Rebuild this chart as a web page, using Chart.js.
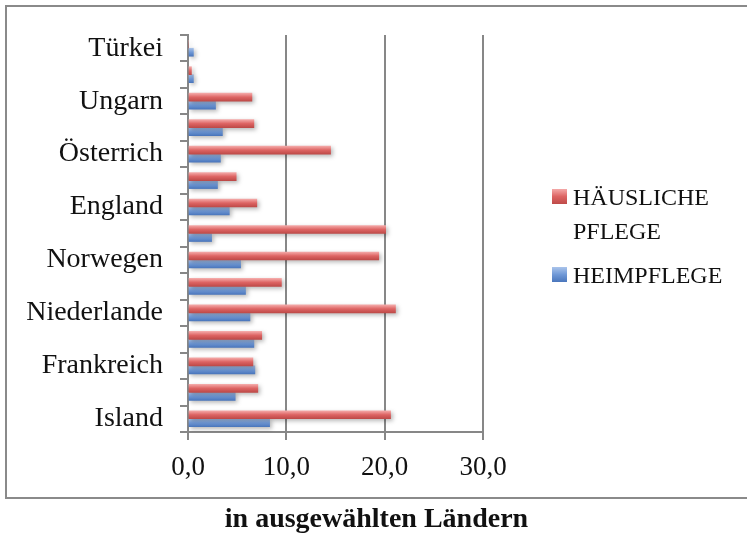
<!DOCTYPE html>
<html>
<head>
<meta charset="utf-8">
<script src="https://cdn.jsdelivr.net/npm/chart.js@4"></script>
<style>
  html, body { margin:0; padding:0; background:#fff; }
  body { width:747px; height:533px; position:relative; overflow:hidden; font-family:"Liberation Serif", serif; }
  #frame { position:absolute; left:5px; top:5px; width:800px; height:490px; border:2px solid #8a8a8a; }
  #chart { position:absolute; left:0; top:0; }
  #legend { position:absolute; left:552px; top:180px; width:180px; font-size:24px; line-height:34px; color:#111; }
  .item { position:relative; padding-left:21px; margin-bottom:10px; }
  .swatch { position:absolute; left:0; top:9px; width:15px; height:15px; }
  #caption { position:absolute; left:3px; top:504px; width:747px; text-align:center; font-weight:bold; font-size:28px; line-height:28px; color:#111; }
</style>
</head>
<body>
<div id="frame"></div>
<canvas id="chart" width="747" height="533"></canvas>
<div id="legend"></div>
<div id="caption">in ausgewählten Ländern</div>
<script>
// categories, top to bottom (every other one is unlabeled in the original)
const countries = ["Türkei","","Ungarn","","Österrich","","England","","Norwegen","","Niederlande","","Frankreich","","Island"];
const haeuslichePflege = [0, 0.35, 6.5, 6.7, 14.5, 4.9, 7.0, 20.1, 19.4, 9.5, 21.1, 7.5, 6.6, 7.1, 20.6];
const heimPflege = [0.55, 0.55, 2.8, 3.5, 3.3, 3.0, 4.2, 2.4, 5.35, 5.85, 6.3, 6.7, 6.8, 4.8, 8.3];
const xTicks = [0, 10, 20, 30];

const seriesNames = ["HÄUSLICHE PFLEGE", "HEIMPFLEGE"];
const shades = [
  ["#f4a9a8", "#dd6463", "#be4a48"],
  ["#aac4eb", "#7099d7", "#4a76bc"]
];

// vertical gradient per bar, like the office-style bevel
const barShade = {
  id:"barShade",
  beforeDatasetsDraw(chart){
    const ctx = chart.ctx;
    chart.data.datasets.forEach((ds, di) => {
      const c = shades[di];
      chart.getDatasetMeta(di).data.forEach(el => {
        const top = el.y - el.height / 2, bot = el.y + el.height / 2;
        const g = ctx.createLinearGradient(0, top, 0, bot);
        g.addColorStop(0, c[0]);
        g.addColorStop(0.5, c[1]);
        g.addColorStop(1, c[2]);
        el.options = Object.assign({}, el.options, { backgroundColor:g });
      });
    });
  },
  beforeDatasetDraw(chart){
    const ctx = chart.ctx;
    ctx.save();
    ctx.shadowColor = "rgba(0,0,0,.28)";
    ctx.shadowBlur = 4;
    ctx.shadowOffsetX = 2;
    ctx.shadowOffsetY = 2;
  },
  afterDatasetDraw(chart){
    chart.ctx.restore();
  }
};

const axisGray = "#878787";

const chart = new Chart(document.getElementById("chart").getContext("2d"), {
  type:"bar",
  data:{
    labels:countries,
    datasets:[
      { label:seriesNames[0], data:haeuslichePflege, backgroundColor:shades[0][1] },
      { label:seriesNames[1], data:heimPflege, backgroundColor:shades[1][1] }
    ]
  },
  options:{
    indexAxis:"y",
    responsive:false,
    animation:false,
    barThickness:8,
    layout:{ padding:{ left:0, right:264, top:35, bottom:41 } },
    plugins:{ legend:{ display:false }, tooltip:{ enabled:false } },
    scales:{
      x:{
        min:0, max:30,
        afterBuildTicks:s => { s.ticks = xTicks.map(v => ({ value:v })); },
        afterFit:s => { s.height = 60; },
        ticks:{ color:"#111", font:{ family:"Liberation Serif", size:27 }, padding:12, callback:v => Number(v).toFixed(1).replace(".", ",") },
        grid:{ color:axisGray, lineWidth:2, tickLength:8 },
        border:{ color:axisGray, width:2 }
      },
      y:{
        afterFit:s => { s.width = 188; },
        ticks:{ color:"#111", autoSkip:false, font:{ family:"Liberation Serif", size:28 }, padding:17 },
        grid:{ color:axisGray, lineWidth:2, tickLength:8, drawOnChartArea:false, offset:true },
        border:{ color:axisGray, width:2 }
      }
    }
  },
  plugins:[barShade]
});

// legend in html so the long label can wrap like the original
const legend = document.getElementById("legend");
chart.data.datasets.forEach((ds, i) => {
  const item = document.createElement("div");
  item.className = "item";
  const sw = document.createElement("span");
  sw.className = "swatch";
  sw.style.background = `linear-gradient(${shades[i][0]}, ${shades[i][1]} 50%, ${shades[i][2]})`;
  item.appendChild(sw);
  item.appendChild(document.createTextNode(ds.label));
  legend.appendChild(item);
});
</script>
</body>
</html>
